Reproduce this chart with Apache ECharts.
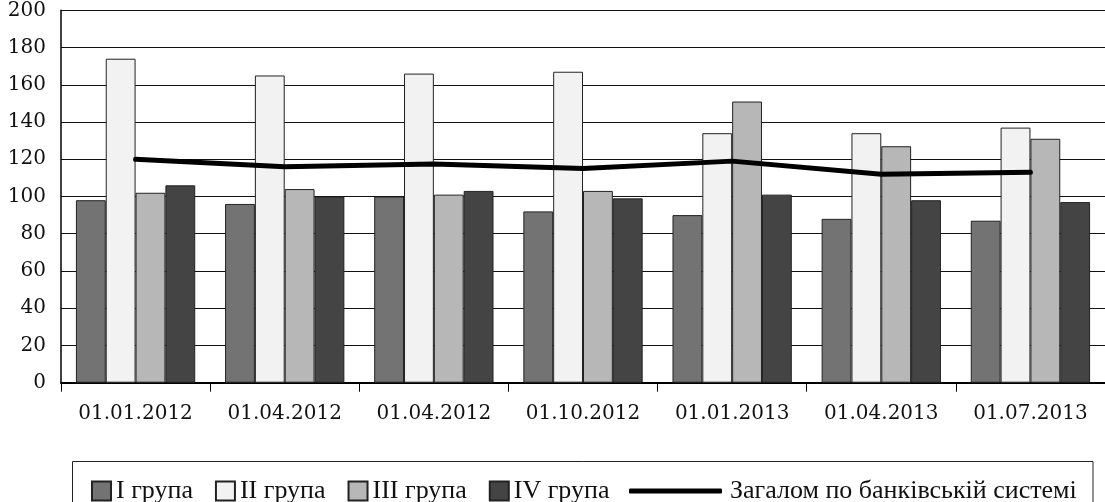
<!DOCTYPE html>
<html>
<head>
<meta charset="utf-8">
<script src="https://cdn.jsdelivr.net/npm/echarts@6/dist/echarts.min.js"></script>
<style>
  html, body { margin: 0; padding: 0; background: #fff; }
  #chart { width: 1105px; height: 502px; }
</style>
</head>
<body>
<div id="chart"></div>
<script>
const categories = ['01.01.2012', '01.04.2012', '01.04.2012', '01.10.2012', '01.01.2013', '01.04.2013', '01.07.2013'];
const group1 = [98, 96, 100, 92, 90, 88, 87];
const group2 = [174, 165, 166, 167, 134, 134, 137];
const group3 = [102, 104, 101, 103, 151, 127, 131];
const group4 = [106, 100, 103, 99, 101, 98, 97];
const total = [120, 116, 117.5, 115, 119, 112, 113];
const yTicks = { min: 0, max: 200, interval: 20 };

const names = ['I група', 'II група', 'III група', 'IV група', 'Загалом по банківській системі'];
const barColors = ['#737373', '#f2f2f2', '#b7b7b7', '#444444'];
const serif = '"DejaVu Serif", "Liberation Serif", serif';
const legendFont = '"Liberation Serif", "DejaVu Serif", serif';

const chart = echarts.init(document.getElementById('chart'));

function barSeries(i, data) {
  return {
    name: names[i],
    type: 'bar',
    data: data,
    barGap: '0%',
    barCategoryGap: '20%',
    itemStyle: { color: barColors[i], borderColor: '#222', borderWidth: 1 },
    emphasis: { disabled: true },
    animation: false
  };
}

chart.setOption({
  animation: false,
  backgroundColor: '#fff',
  grid: { left: 61, top: 10.3, width: 1047, height: 372.4, containLabel: false },
  graphic: [{
    type: 'rect',
    shape: { x: 72.5, y: 461.5, width: 1020.5, height: 60 },
    style: { fill: 'none', stroke: '#222', lineWidth: 1 },
    silent: true
  }],
  legend: [{
    data: names.slice(0, 4),
    left: 86,
    top: 473,
    itemWidth: 19,
    itemHeight: 19,
    itemGap: 22,
    icon: 'rect',
    textStyle: { fontFamily: legendFont, fontSize: 26, color: '#111' },
    selectedMode: false
  }, {
    data: [{ name: names[4], icon: 'roundRect', itemStyle: { color: '#000', borderWidth: 0 } }],
    left: 624,
    top: 473,
    itemWidth: 93,
    itemHeight: 5,
    textStyle: { fontFamily: legendFont, fontSize: 26, color: '#111', padding: [0, 0, 0, 3] },
    selectedMode: false
  }],
  xAxis: {
    type: 'category',
    data: categories,
    boundaryGap: true,
    axisLine: { show: true, lineStyle: { color: '#000', width: 2 } },
    axisTick: { show: true, length: 9, lineStyle: { color: '#000', width: 1 } },
    axisLabel: { fontFamily: serif, fontSize: 20, color: '#111', margin: 21 },
    splitLine: { show: false }
  },
  yAxis: {
    type: 'value',
    min: yTicks.min,
    max: yTicks.max,
    interval: yTicks.interval,
    axisLine: { show: true, lineStyle: { color: '#000', width: 1.5 } },
    axisTick: { show: false },
    axisLabel: { fontFamily: serif, fontSize: 20, color: '#111', margin: 15 },
    splitLine: { show: true, lineStyle: { color: '#111', width: 1 } }
  },
  series: [
    barSeries(0, group1),
    barSeries(1, group2),
    barSeries(2, group3),
    barSeries(3, group4),
    {
      name: names[4],
      type: 'line',
      data: total,
      symbol: 'none',
      z: 5,
      lineStyle: { color: '#000', width: 5, cap: 'round', join: 'round' },
      itemStyle: { color: '#000' },
      emphasis: { disabled: true }
    }
  ]
});
</script>
</body>
</html>
